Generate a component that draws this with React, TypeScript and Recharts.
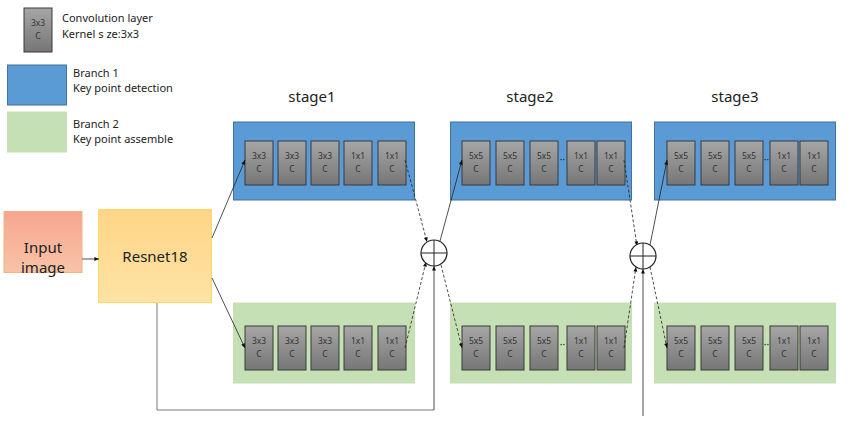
import React from "react";
import { ScatterChart, Scatter, XAxis, YAxis } from "recharts";

// Diagram drawn on an identity scale: x 0..850, y 0..423 (top-down)
const panels = [
  { x: 38, y: 30, w: 30, h: 40, kind: "conv", label: "3x3" },
  { x: 37, y: 85, w: 59, h: 40, kind: "blue", label: "" },
  { x: 37, y: 132, w: 59, h: 40, kind: "green", label: "" },
  { x: 43, y: 242, w: 78, h: 61, kind: "input", label: "" },
  { x: 155, y: 256, w: 113, h: 93, kind: "resnet", label: "" },
  { x: 324, y: 161, w: 181, h: 78, kind: "blue", label: "" },
  { x: 541, y: 161, w: 181, h: 78, kind: "blue", label: "" },
  { x: 745, y: 161, w: 181, h: 78, kind: "blue", label: "" },
  { x: 324, y: 343, w: 181, h: 80, kind: "green", label: "" },
  { x: 541, y: 343, w: 181, h: 80, kind: "green", label: "" },
  { x: 745, y: 343, w: 181, h: 80, kind: "green", label: "" },
];

const convXs1 = [259, 292, 325, 358, 392];
const convXs2 = [476, 510, 544, 581, 611];
const convXs3 = [681, 715, 749, 784, 814];
const labels1 = ["3x3", "3x3", "3x3", "1x1", "1x1"];
const labels23 = ["5x5", "5x5", "5x5", "1x1", "1x1"];
const rowYs = [163, 348];

const convs = rowYs.flatMap((y) => [
  ...convXs1.map((x, i) => ({ x, y, label: labels1[i] })),
  ...convXs2.map((x, i) => ({ x, y, label: labels23[i] })),
  ...convXs3.map((x, i) => ({ x, y, label: labels23[i] })),
]);

const dots = rowYs.flatMap((y) => [{ x: 562.5, y }, { x: 766.5, y }]);

const sums = [{ x: 434, y: 253 }, { x: 643, y: 256 }];

const arrows = [
  { x1: 82, y1: 259, x: 99, y: 259, dash: false },
  { x1: 212, y1: 238, x: 245, y: 160, dash: false },
  { x1: 212, y1: 278, x: 245, y: 348, dash: false },
  { x1: 405, y1: 160, x: 427, y: 242, dash: true },
  { x1: 405, y1: 348, x: 426, y: 262, dash: true },
  { x1: 440, y1: 241, x: 462, y: 160, dash: false },
  { x1: 441, y1: 265, x: 462, y: 348, dash: true },
  { x1: 624, y1: 160, x: 637, y: 246, dash: true },
  { x1: 624, y1: 348, x: 636, y: 267, dash: true },
  { x1: 650, y1: 245, x: 667, y: 160, dash: false },
  { x1: 650, y1: 267, x: 667, y: 348, dash: true },
  { x1: 434, y1: 410, x: 434, y: 266, dash: false },
  { x1: 643, y1: 416, x: 643, y: 269, dash: false },
];
const skipPath = [
  { x: 157, y: 303 },
  { x: 157, y: 410 },
  { x: 434, y: 410 },
];

const texts = [
  { x: 62, y: 22, t: "Convolution layer", size: 11, anchor: "start" },
  { x: 62, y: 38, t: "Kernel s ze:3x3", size: 11, anchor: "start" },
  { x: 73, y: 77, t: "Branch 1", size: 11, anchor: "start" },
  { x: 73, y: 92, t: "Key point detection", size: 11, anchor: "start" },
  { x: 73, y: 128, t: "Branch 2", size: 11, anchor: "start" },
  { x: 73, y: 143, t: "Key point assemble", size: 11, anchor: "start" },
  { x: 312, y: 102, t: "stage1", size: 15, anchor: "middle" },
  { x: 530, y: 102, t: "stage2", size: 15, anchor: "middle" },
  { x: 735, y: 102, t: "stage3", size: 15, anchor: "middle" },
  { x: 43, y: 253, t: "Input", size: 15, anchor: "middle" },
  { x: 43, y: 273, t: "image", size: 15, anchor: "middle" },
  { x: 155, y: 262, t: "Resnet18", size: 15, anchor: "middle" },
];

const FILL: Record<string, [string, string]> = {
  blue: ["#5b9bd5", "#41719c"],
  green: ["#c5e0b4", "#c5e0b4"],
  input: ["url(#gIn)", "#f4b183"],
  resnet: ["url(#gRes)", "#ffd966"],
};

function ConvBox({ cx, cy, label }: any) {
  return (
    <g>
      <rect x={cx - 14} y={cy - 22} width={28} height={44} fill="url(#gConv)" stroke="#3a3a3a" strokeWidth={1} />
      <text x={cx} y={cy - 4} textAnchor="middle" fontSize={8.5} fill="#333">{label}</text>
      <text x={cx} y={cy + 9} textAnchor="middle" fontSize={8.5} fill="#333">C</text>
    </g>
  );
}

function PanelShape({ cx, cy, payload }: any) {
  if (payload.kind === "conv") return <ConvBox cx={cx} cy={cy} label={payload.label} />;
  const [f, s] = FILL[payload.kind];
  return <rect x={cx - payload.w / 2} y={cy - payload.h / 2} width={payload.w} height={payload.h} fill={f} stroke={s} strokeWidth={1} />;
}

function ArrowShape({ cx, cy, payload }: any) {
  const sx = cx + (payload.x1 - payload.x);
  const sy = cy + (payload.y1 - payload.y);
  const a = Math.atan2(cy - sy, cx - sx);
  const L = 5;
  const p1 = `${cx - L * Math.cos(a - 0.4)},${cy - L * Math.sin(a - 0.4)}`;
  const p2 = `${cx - L * Math.cos(a + 0.4)},${cy - L * Math.sin(a + 0.4)}`;
  return (
    <g>
      <line x1={sx} y1={sy} x2={cx} y2={cy} stroke="#222" strokeWidth={0.8} strokeDasharray={payload.dash ? "3 2" : undefined} />
      <polygon points={`${cx},${cy} ${p1} ${p2}`} fill="#111" />
    </g>
  );
}

function SumShape({ cx, cy }: any) {
  const r = 13;
  return (
    <g>
      <circle cx={cx} cy={cy} r={r} fill="#fff" stroke="#222" strokeWidth={1.2} />
      <line x1={cx - r} y1={cy} x2={cx + r} y2={cy} stroke="#222" strokeWidth={1} />
      <line x1={cx} y1={cy - r} x2={cx} y2={cy + r} stroke="#222" strokeWidth={1} />
    </g>
  );
}

function TextShape({ cx, cy, payload }: any) {
  return (
    <text x={cx} y={cy} fontSize={payload.size} textAnchor={payload.anchor} fill="#222" fontFamily="'Microsoft YaHei', 'Noto Sans', sans-serif">
      {payload.t}
    </text>
  );
}

function DotsShape({ cx, cy }: any) {
  return <text x={cx} y={cy} textAnchor="middle" fontSize={10} fill="#222">··</text>;
}

export default function App() {
  return (
    <div style={{ position: "absolute", left: 0, top: 0, background: "#fff", fontFamily: "'Noto Sans', sans-serif" }}>
      <svg width={0} height={0} style={{ position: "absolute" }}>
        <defs>
          <linearGradient id="gConv" x1="0" y1="0" x2="0" y2="1">
            <stop offset="0" stopColor="#a6a6a6" />
            <stop offset="1" stopColor="#767676" />
          </linearGradient>
          <linearGradient id="gIn" x1="0" y1="0" x2="0" y2="1">
            <stop offset="0" stopColor="#f6a68e" />
            <stop offset="1" stopColor="#f8c3a8" />
          </linearGradient>
          <linearGradient id="gRes" x1="0" y1="0" x2="0" y2="1">
            <stop offset="0" stopColor="#ffd587" />
            <stop offset="1" stopColor="#fde3a5" />
          </linearGradient>
        </defs>
      </svg>
      <ScatterChart width={850} height={423} margin={{ top: 0, right: 0, bottom: 0, left: 0 }}>
        <XAxis type="number" dataKey="x" domain={[0, 850]} hide />
        <YAxis type="number" dataKey="y" domain={[0, 423]} reversed hide />
        <Scatter data={panels} shape={<PanelShape />} isAnimationActive={false} />
        <Scatter data={convs} shape={<ConvBox />} isAnimationActive={false} />
        <Scatter data={dots} shape={<DotsShape />} isAnimationActive={false} />
        <Scatter data={skipPath} line={{ stroke: "#555", strokeWidth: 0.8 }} shape={() => <g />} isAnimationActive={false} />
        <Scatter data={arrows} shape={<ArrowShape />} isAnimationActive={false} />
        <Scatter data={sums} shape={<SumShape />} isAnimationActive={false} />
        <Scatter data={texts} shape={<TextShape />} isAnimationActive={false} />
      </ScatterChart>
    </div>
  );
}
